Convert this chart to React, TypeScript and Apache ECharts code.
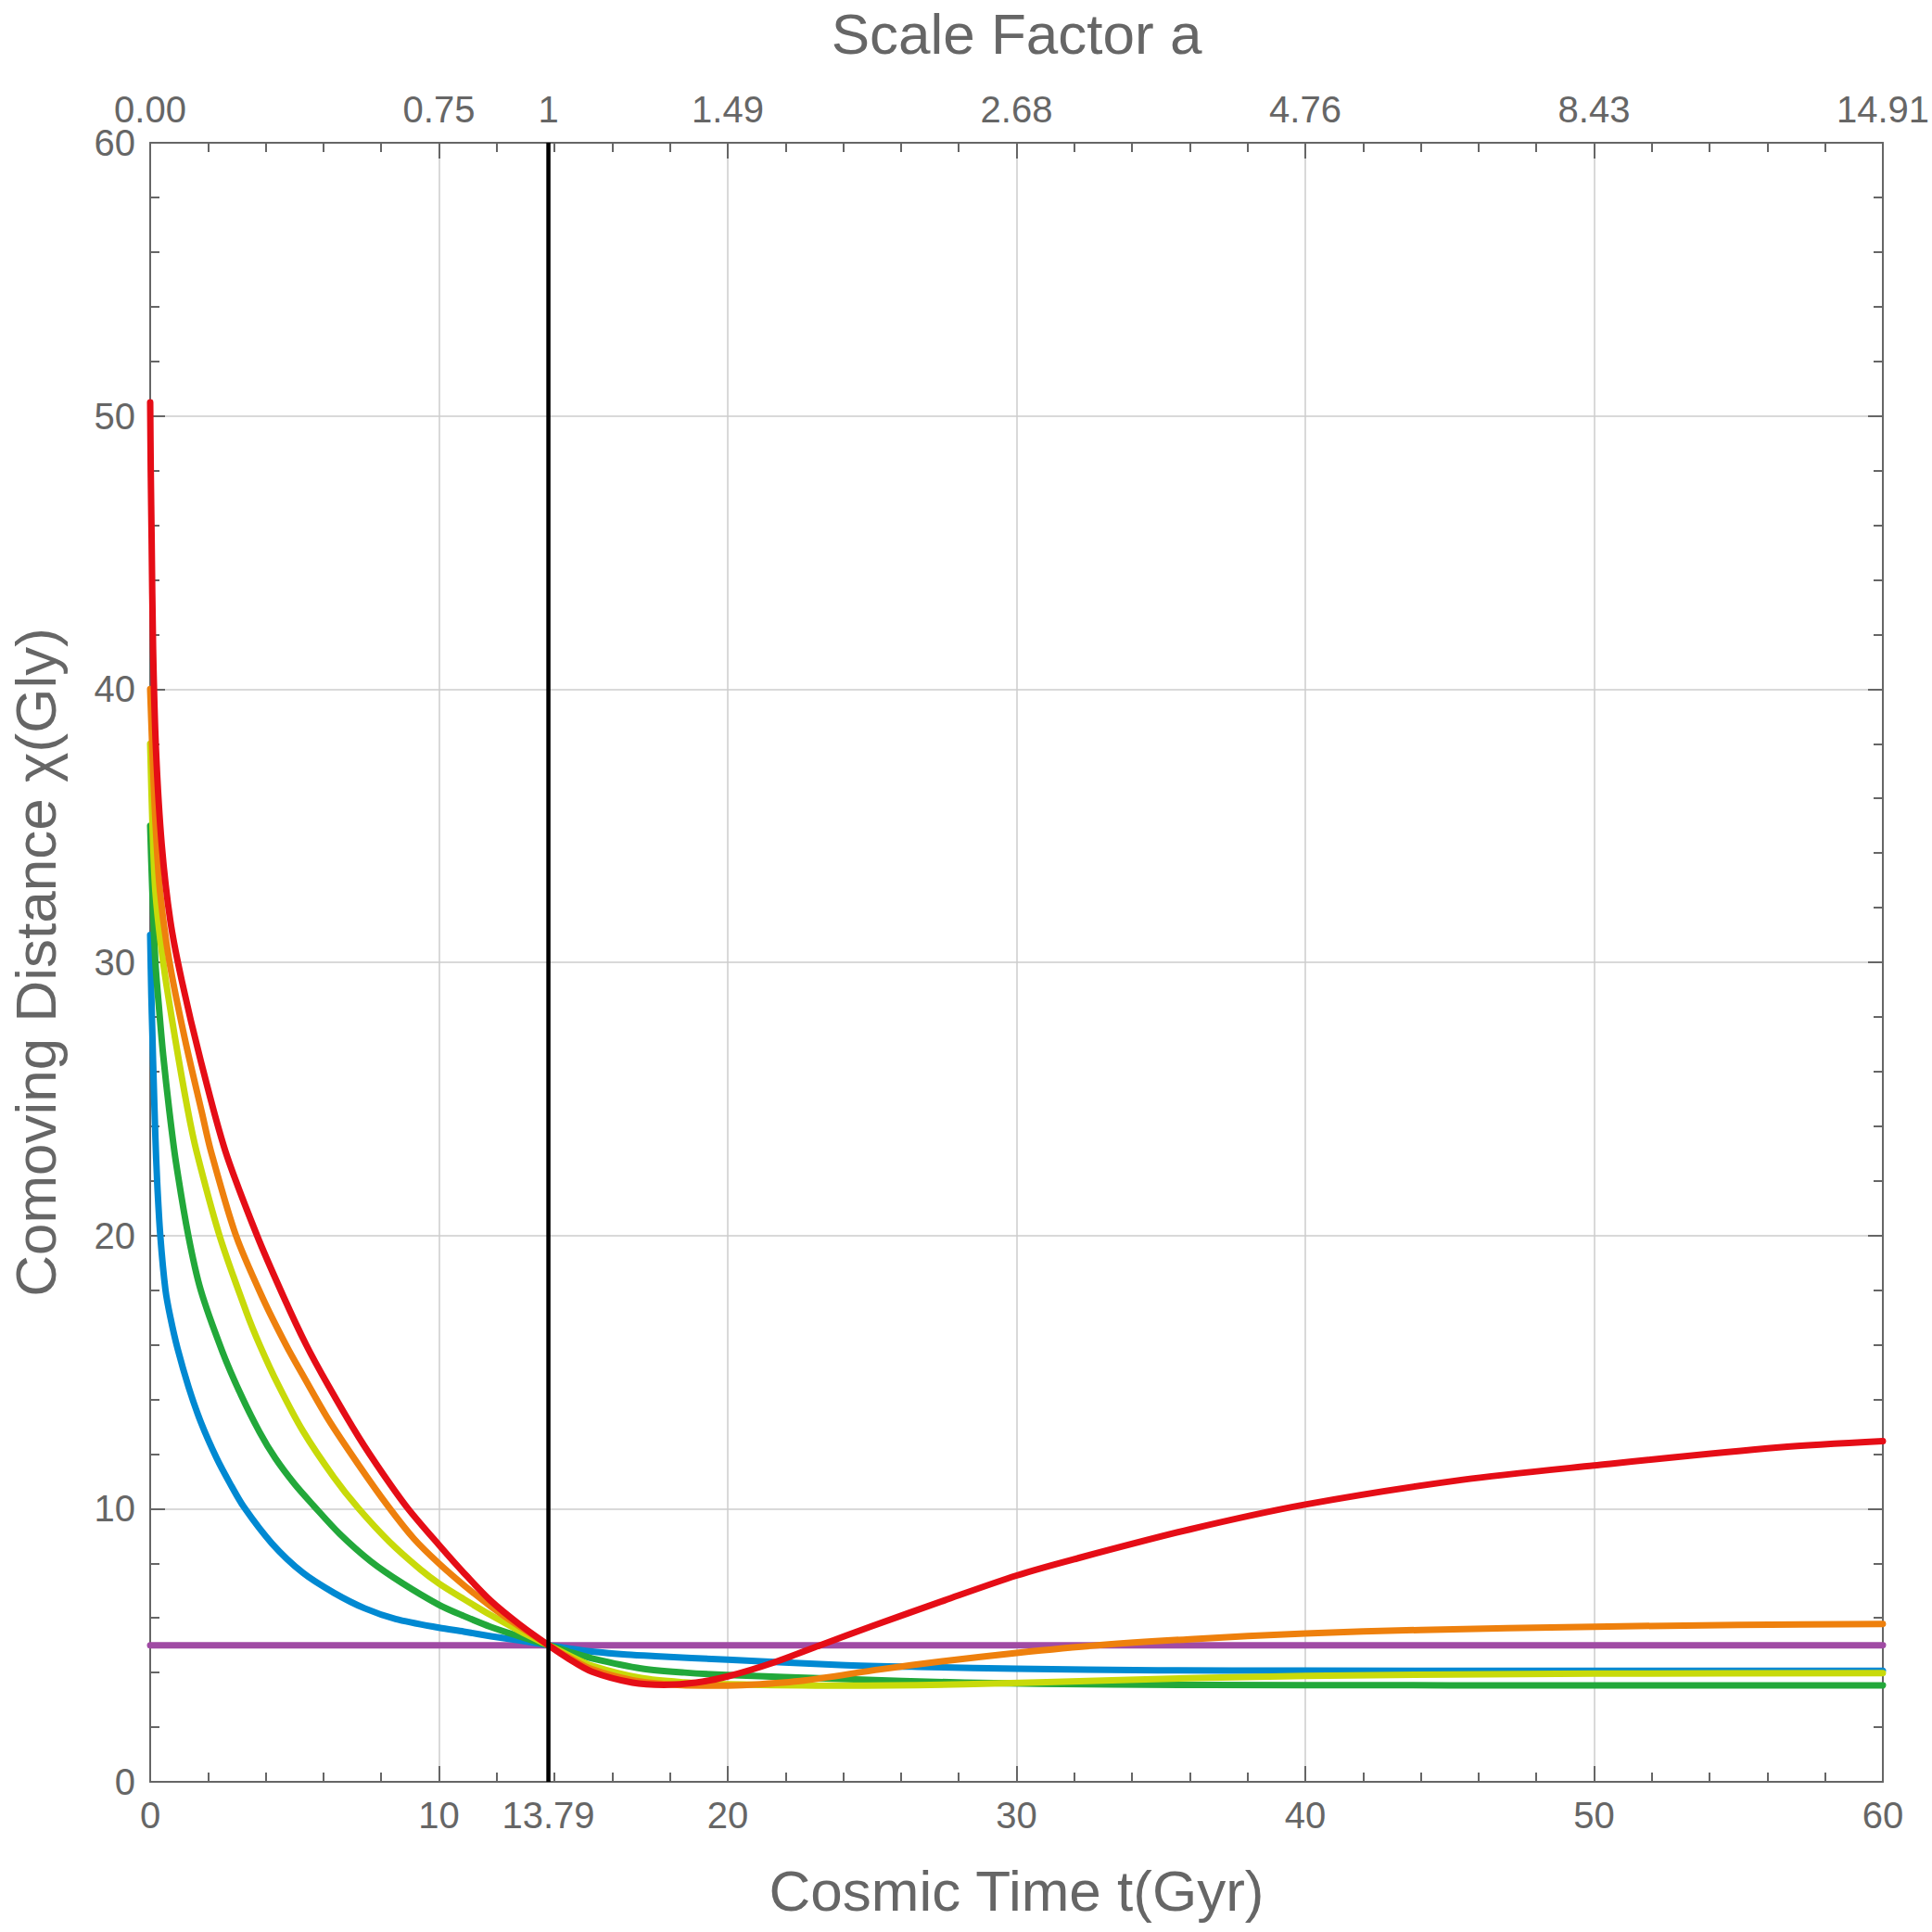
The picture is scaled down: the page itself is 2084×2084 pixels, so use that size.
import React, { useEffect, useRef } from "react";
import * as echarts from "echarts";

// ---- Data ----
const bottomTickLabelValues = [0, 10, 13.79, 20, 30, 40, 50, 60];
const topTickLabelValues = [0, 10, 13.79, 20, 30, 40, 50, 60];
const topTickLabels = ["0.00", "0.75", "1", "1.49", "2.68", "4.76", "8.43", "14.91"];
const todayTime = 13.79;
const yRange = [0, 60];

const purpleSeries = [
  [0, 5], [60, 5],
];
const blueSeries = [
  [0, 31], [0.04, 28.8], [0.075, 27.4], [0.1, 26.4], [0.18, 23.6], [0.24, 22.0],
  [0.35, 20.0], [0.53, 18.0], [0.7, 17.0], [0.95, 15.85], [1.33, 14.45], [1.76, 13.15],
  [2.3, 11.85], [2.75, 10.95], [3.25, 10.05], [4.22, 8.72], [5.29, 7.65], [6.36, 6.92],
  [7.43, 6.35], [8.5, 5.96], [10, 5.64], [10.86, 5.5], [11.8, 5.33], [12.8, 5.17],
  [13.79, 5.0], [14.5, 4.88], [15.3, 4.77], [16.5, 4.66], [17.5, 4.6], [20, 4.47],
  [23.9, 4.28], [27, 4.2], [30, 4.14], [34.9, 4.08], [40, 4.07], [50, 4.06], [60, 4.06],
];
const greenSeries = [
  [0, 35], [0.075, 32.6], [0.18, 30], [0.3, 28.4], [0.45, 26.6], [0.67, 24.5],
  [0.89, 22.7], [1.32, 20], [1.75, 18], [2.5, 15.75], [3.15, 14.15], [3.79, 12.8],
  [4.33, 11.85], [5.0, 10.9], [5.65, 10.12], [6.57, 9.07], [7.64, 8.07], [8.72, 7.28],
  [10, 6.48], [10.86, 6.07], [11.8, 5.67], [12.8, 5.32], [13.79, 5.0], [14.5, 4.76],
  [15.3, 4.52], [17, 4.15], [18.5, 4.0], [20, 3.91], [23.9, 3.77], [28.2, 3.63],
  [33.3, 3.56], [40, 3.54], [50, 3.53], [60, 3.53],
];
const yellowSeries = [
  [0, 38], [0.075, 35.2], [0.18, 32.6], [0.45, 30], [0.85, 27.3], [1.3, 24.6],
  [1.6, 23.1], [2.4, 20], [3.33, 17.2], [3.79, 16.0], [4.43, 14.54], [5.29, 12.84],
  [6.36, 11.15], [7.22, 10.0], [8.29, 8.78], [9.36, 7.77], [10, 7.26], [10.86, 6.69],
  [11.8, 6.1], [12.8, 5.52], [13.79, 5.0], [14.5, 4.63], [15.3, 4.25], [17, 3.8],
  [18.5, 3.64], [20, 3.57], [23.9, 3.52], [28.2, 3.57], [33.3, 3.72], [40, 3.88],
  [50, 3.96], [60, 3.98],
];
const orangeSeries = [
  [0, 40], [0.075, 37.8], [0.18, 35.2], [0.34, 32.6], [0.67, 30], [1.2, 27.2],
  [1.79, 24.5], [2.1, 23.1], [2.97, 20], [3.9, 17.7], [4.7, 16.0], [5.29, 14.88],
  [6.15, 13.3], [7.22, 11.6], [8.23, 10.1], [9.14, 8.89], [10, 7.99], [10.86, 7.2],
  [11.8, 6.42], [12.8, 5.68], [13.79, 5.0], [14.5, 4.55], [15.3, 4.12], [16.7, 3.72],
  [18, 3.56], [19.2, 3.52], [20.5, 3.54], [22.5, 3.69], [25.3, 4.12], [27.5, 4.42],
  [30, 4.72], [32.8, 5.0], [36, 5.22], [40, 5.43], [44, 5.56], [50, 5.68],
  [55, 5.74], [60, 5.78],
];
const redSeries = [
  [0, 50.5], [0.02, 48.0], [0.05, 45.5], [0.1, 41.5], [0.2, 37.8], [0.4, 34.3],
  [0.7, 31.5], [1.1, 29.3], [1.75, 26.4], [2.6, 23.1], [3.7, 20.0], [4.6, 17.8],
  [5.4, 16.0], [6.15, 14.54], [7.22, 12.62], [8.07, 11.26], [8.93, 10.0], [10, 8.67],
  [10.86, 7.65], [11.8, 6.62], [12.8, 5.75], [13.79, 5.0], [14.5, 4.5], [15.3, 4.03],
  [16.7, 3.63], [17.8, 3.55], [18.9, 3.63], [20, 3.86], [21.6, 4.37], [23.2, 5.0],
  [25, 5.7], [27.5, 6.64], [30, 7.55], [32, 8.15], [36, 9.24], [40, 10.15],
  [45.4, 11.05], [50, 11.58], [56.4, 12.24], [60, 12.47],
];

const FONT = "Liberation Sans, Arial, Helvetica, sans-serif";
const TEXT = "#666666";
const AXIS = "#666666";
const GRIDC = "#cccccc";

export default function App() {
  const ref = useRef<HTMLDivElement>(null);
  useEffect(() => {
    document.body.style.margin = "0";
    const chart = echarts.init(ref.current!, null, { renderer: "svg" });
    const axisCommon = {
      type: "value" as const,
      axisLine: { show: true, onZero: false, lineStyle: { color: AXIS, width: 2 } },
      axisTick: { show: true, inside: true, length: 17, lineStyle: { color: AXIS, width: 2 } },
      minorTick: { show: true, splitNumber: 5, length: 10, lineStyle: { color: AXIS, width: 2 } },
    };
    const curve = (data: number[][], color: string, z: number) => ({
      type: "line",
      data,
      xAxisIndex: 0,
      yAxisIndex: 0,
      showSymbol: false,
      symbol: "none",
      smooth: 0.3,
      lineStyle: { color, width: 7, cap: "round", join: "round" },
      z,
      silent: true,
    });
    chart.setOption({
      animation: false,
      backgroundColor: "#ffffff",
      grid: { left: 162, right: 53, top: 154, bottom: 162, containLabel: false, outerBoundsMode: "none" },
      xAxis: [
        {
          ...axisCommon,
          position: "bottom",
          min: 0,
          max: 60,
          interval: 10,
          splitLine: { show: true, lineStyle: { color: GRIDC, width: 1.5 } },
          axisLabel: {
            customValues: bottomTickLabelValues,
            showMinLabel: true,
            showMaxLabel: true,
            color: TEXT,
            fontSize: 40,
            fontFamily: FONT,
            margin: 16,
            formatter: (v: number) => String(v),
          },
          name: "Cosmic Time t(Gyr)",
          nameLocation: "middle",
          nameGap: 86,
          nameTextStyle: { color: TEXT, fontSize: 62, fontFamily: FONT },
        },
        {
          ...axisCommon,
          position: "top",
          min: 0,
          max: 60,
          interval: 10,
          splitLine: { show: false },
          axisLabel: {
            customValues: topTickLabelValues,
            showMinLabel: true,
            showMaxLabel: true,
            color: TEXT,
            fontSize: 40,
            fontFamily: FONT,
            margin: 16,
            formatter: (v: number) => {
              const i = topTickLabelValues.findIndex((t) => Math.abs(t - v) < 1e-6);
              return i >= 0 ? topTickLabels[i] : "";
            },
          },
          name: "Scale Factor a",
          nameLocation: "middle",
          nameGap: 87,
          nameTextStyle: { color: TEXT, fontSize: 62, fontFamily: FONT },
        },
      ],
      yAxis: [
        {
          ...axisCommon,
          axisTick: { ...axisCommon.axisTick, length: 16 },
          position: "left",
          min: yRange[0],
          max: yRange[1],
          interval: 10,
          splitLine: { show: true, lineStyle: { color: GRIDC, width: 1.5 } },
          axisLabel: {
            show: true,
            showMinLabel: true,
            showMaxLabel: true,
            color: TEXT,
            fontSize: 40,
            fontFamily: FONT,
            margin: 16,
          },
          name: "Comoving Distance χ(Gly)",
          nameLocation: "middle",
          nameGap: 93,
          nameRotate: 90,
          nameTextStyle: { color: TEXT, fontSize: 62, fontFamily: FONT },
        },
        {
          ...axisCommon,
          axisTick: { ...axisCommon.axisTick, length: 16 },
          position: "right",
          min: yRange[0],
          max: yRange[1],
          interval: 10,
          splitLine: { show: false },
          axisLabel: { show: false },
        },
      ],
      series: [
        curve(purpleSeries, "#A04BA4", 2),
        curve(blueSeries, "#0089D2", 3),
        curve(greenSeries, "#22A83A", 4),
        curve(yellowSeries, "#C8DA0A", 5),
        curve(orangeSeries, "#EE800D", 6),
        curve(redSeries, "#E50D16", 7),
        {
          type: "line",
          data: [[todayTime, yRange[0]], [todayTime, yRange[1]]],
          showSymbol: false,
          symbol: "none",
          lineStyle: { color: "#000000", width: 4.5 },
          z: 8,
          silent: true,
        },
      ],
    });
    return () => chart.dispose();
  }, []);
  return <div ref={ref} style={{ width: 2084, height: 2084 }} />;
}
